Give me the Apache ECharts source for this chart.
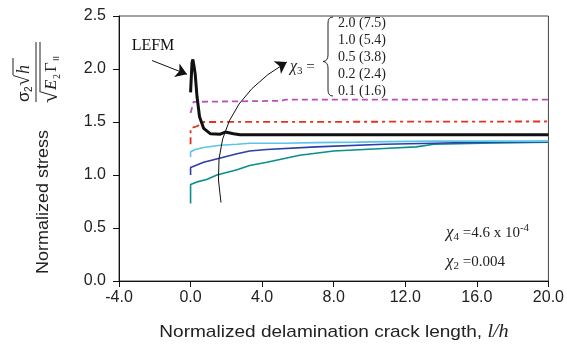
<!DOCTYPE html>
<html>
<head>
<meta charset="utf-8">
<script src="https://cdn.jsdelivr.net/npm/echarts@6/dist/echarts.min.js"></script>
<style>
  html, body { margin: 0; padding: 0; background: #fff; }
  #chart { width: 567px; height: 347px; }
</style>
</head>
<body>
<div id="chart"></div>
<script>
/* ---- data ---- */
const xMin = -4, xMax = 20, xStep = 4;
const yMin = 0, yMax = 2.5, yStep = 0.5;

// LEFM solution (thick black)
const lefm = [[0, 1.78], [0.08, 2.06], [0.13, 2.09], [0.2, 2.02], [0.26, 1.95], [0.36, 1.74],
  [0.5, 1.55], [0.73, 1.44], [1.1, 1.39], [1.66, 1.385], [1.94, 1.405], [2.4, 1.39], [2.77, 1.38], [20, 1.38]];
// chi3 = 2.0 (7.5)
const chi20 = [[0, 1.585], [0.17, 1.69], [0.25, 1.70], [5.1, 1.70], [5.3, 1.712], [20, 1.712]];
// chi3 = 1.0 (5.4)
const chi10 = [[0, 1.29], [0, 1.44], [0.36, 1.46], [0.73, 1.50], [20, 1.505]];
// chi3 = 0.5 (3.8)
const chi05 = [[0, 1.17], [0, 1.22], [0.26, 1.24], [0.73, 1.26], [1.66, 1.28], [2.6, 1.29], [3.3, 1.30],
  [5.2, 1.30], [7, 1.305], [9.3, 1.31], [11, 1.315], [13.6, 1.32], [20, 1.32]];
// chi3 = 0.2 (2.4)
const chi02 = [[0, 1.0], [0, 1.07], [0.73, 1.12], [1.56, 1.155], [2.6, 1.20], [3.3, 1.227], [4.26, 1.24],
  [7, 1.265], [10.8, 1.29], [13.6, 1.30], [16.3, 1.31], [20, 1.315]];
// chi3 = 0.1 (1.6)
const chi01 = [[0, 0.73], [0, 0.91], [0.36, 0.935], [0.9, 0.957], [1.47, 1.0], [2.6, 1.05], [3.3, 1.09],
  [4.26, 1.12], [6.1, 1.186], [8, 1.227], [10.8, 1.25], [12.6, 1.265], [13.6, 1.29], [16.3, 1.30], [20, 1.31]];

const chi3Labels = ['2.0 (7.5)', '1.0 (5.4)', '0.5 (3.8)', '0.2 (2.4)', '0.1 (1.6)'];

// annotation arrows (data coords)
const lefmArrow = [[-2.15, 2.08], [-0.2, 1.95]];
const chi3Arrow = [[1.7, 0.74], [5.38, 2.065]];

/* ---- chart ---- */
const SANS = '"Liberation Sans", Arial, sans-serif';
const SERIF = '"Liberation Serif", "Times New Roman", serif';

const chart = echarts.init(document.getElementById('chart'), null, { renderer: 'canvas' });

function curve(name, data, color, width, type) {
  return {
    name, type: 'line', data,
    showSymbol: false, symbol: 'none', animation: false,
    lineStyle: { color, width, type: type || 'solid' },
    z: 3
  };
}

function arrow(coords, curveness) {
  return {
    type: 'lines', coordinateSystem: 'cartesian2d', animation: false, z: 4,
    symbol: ['none', 'arrow'], symbolSize: [7, 11],
    lineStyle: { color: '#111', width: 1, opacity: 1, curveness },
    data: [{ coords }]
  };
}

const listText = chi3Labels.map((t, i) => ({
  type: 'text', x: 338, y: 23 + i * 17.2,
  style: { text: t, font: '14px ' + SERIF, fill: '#222', verticalAlign: 'middle' }
}));

// curly brace, drawn from small pieces
const braceStyle = { stroke: '#222', fill: null, lineWidth: 1 };
const brace = [
  { type: 'bezierCurve', shape: { x1: 333, y1: 17, x2: 328, y2: 23, cpx1: 328, cpy1: 17 } },
  { type: 'line', shape: { x1: 328, y1: 23, x2: 328, y2: 55 } },
  { type: 'bezierCurve', shape: { x1: 328, y1: 55, x2: 323, y2: 61.5, cpx1: 328, cpy1: 61 } },
  { type: 'bezierCurve', shape: { x1: 323, y1: 61.5, x2: 328, y2: 68, cpx1: 328, cpy1: 62 } },
  { type: 'line', shape: { x1: 328, y1: 68, x2: 328, y2: 90 } },
  { type: 'bezierCurve', shape: { x1: 328, y1: 90, x2: 333, y2: 96, cpx1: 328, cpy1: 96 } }
].map(e => Object.assign(e, { style: braceStyle, z: 5 }));

const option = {
  animation: false,
  grid: { left: 119, right: 18, top: 16, bottom: 66, show: true, borderColor: '#444', borderWidth: 1 },
  xAxis: {
    type: 'value', min: xMin, max: xMax, interval: xStep,
    axisLine: { onZero: false, lineStyle: { color: '#111', width: 1 } },
    axisTick: { length: 6, lineStyle: { color: '#111' } },
    axisLabel: { color: '#222', fontSize: 16, fontFamily: SANS, margin: 9, formatter: v => v.toFixed(1) },
    splitLine: { show: false }
  },
  yAxis: {
    type: 'value', min: yMin, max: yMax, interval: yStep,
    axisLine: { show: true, onZero: false, lineStyle: { color: '#111', width: 1 } },
    axisTick: { show: true, length: 6, lineStyle: { color: '#111' } },
    axisLabel: { color: '#222', fontSize: 16, fontFamily: SANS, margin: 13, formatter: v => v.toFixed(1) },
    splitLine: { show: false }
  },
  series: [
    curve('0.1', chi01, '#0a8f8a', 1.6),
    curve('0.2', chi02, '#2a3fa8', 1.6),
    curve('0.5', chi05, '#5cc3ea', 1.6),
    curve('1.0', chi10, '#e2321e', 1.8, [7, 4, 3, 4]),
    curve('2.0', chi20, '#b94fbb', 1.8, [6, 4]),
    curve('LEFM', lefm, '#111', 3),
    arrow(lefmArrow, 0),
    arrow(chi3Arrow, 0.35)
  ],
  graphic: [
    // LEFM label
    { type: 'text', x: 153, y: 46, style: { text: 'LEFM', font: '16px ' + SERIF, fill: '#111', align: 'center', verticalAlign: 'middle' } },
    // chi3 =
    {
      type: 'text', x: 290, y: 67,
      style: {
        text: '{c|χ}{s|3} =', fill: '#222', verticalAlign: 'middle',
        rich: {
          c: { font: 'italic 16px ' + SERIF, fill: '#222' },
          s: { font: '11px ' + SERIF, fill: '#222', padding: [8, 0, 0, 0] }
        },
        font: '15px ' + SERIF
      }
    },
    ...brace,
    ...listText,
    // chi4, chi2 notes
    {
      type: 'text', x: 446, y: 233,
      style: {
        text: '{c|χ}{s|4} =4.6 x 10{p|-4}', verticalAlign: 'middle', font: '15px ' + SERIF, fill: '#222',
        rich: {
          c: { font: 'italic 17px ' + SERIF, fill: '#222' },
          s: { font: '11px ' + SERIF, fill: '#222', padding: [8, 0, 0, 0] },
          p: { font: '11px ' + SERIF, fill: '#222', padding: [0, 0, 9, 0] }
        }
      }
    },
    {
      type: 'text', x: 446, y: 262,
      style: {
        text: '{c|χ}{s|2} =0.004', verticalAlign: 'middle', font: '15px ' + SERIF, fill: '#222',
        rich: {
          c: { font: 'italic 17px ' + SERIF, fill: '#222' },
          s: { font: '11px ' + SERIF, fill: '#222', padding: [8, 0, 0, 0] }
        }
      }
    },
    // x axis title (slightly widened like the source lettering)
    {
      type: 'group', x: 334, y: 332, scaleX: 1.12,
      children: [{
        type: 'text', x: 0, y: 0,
        style: {
          text: 'Normalized delamination crack length, {i|l/h}', align: 'center', verticalAlign: 'middle',
          font: '17px ' + SANS, fill: '#222',
          rich: { i: { font: 'italic 18px ' + SERIF, fill: '#222' } }
        }
      }]
    },
    // y axis title
    {
      type: 'group', x: 43, y: 202, rotation: Math.PI / 2, scaleX: 1.06,
      children: [{
        type: 'text', x: 0, y: 0,
        style: { text: 'Normalized stress', align: 'center', verticalAlign: 'middle', font: '17px ' + SANS, fill: '#222' }
      }]
    },
    // stress fraction, rotated
    {
      type: 'group', x: 36, y: 72, rotation: Math.PI / 2,
      children: [
        { type: 'line', shape: { x1: -30, y1: 0, x2: 30, y2: 0 }, style: { stroke: '#222', lineWidth: 1 } },
        // numerator: sigma_2 sqrt(h)
        { type: 'text', x: -30, y: -12, style: { text: 'σ', font: '17px ' + SANS, fill: '#222', verticalAlign: 'middle' } },
        { type: 'text', x: -20, y: -7, style: { text: '2', font: '10px ' + SANS, fill: '#222', verticalAlign: 'middle' } },
        { type: 'text', x: -14, y: -12, style: { text: '√', font: '20px ' + SERIF, fill: '#222', verticalAlign: 'middle' } },
        { type: 'line', shape: { x1: -3, y1: -23, x2: 14, y2: -23 }, style: { stroke: '#222', lineWidth: 1 } },
        { type: 'text', x: -2, y: -12, style: { text: 'h', font: 'italic 18px ' + SERIF, fill: '#222', verticalAlign: 'middle' } },
        // denominator: sqrt(E_2 Gamma_II)
        { type: 'text', x: -31, y: 15, style: { text: '√', font: '22px ' + SERIF, fill: '#222', verticalAlign: 'middle' } },
        { type: 'line', shape: { x1: -19, y1: 4, x2: 30, y2: 4 }, style: { stroke: '#222', lineWidth: 1 } },
        { type: 'text', x: -18, y: 16, style: { text: 'E', font: 'italic 17px ' + SERIF, fill: '#222', verticalAlign: 'middle' } },
        { type: 'text', x: -7, y: 21, style: { text: '2', font: '10px ' + SERIF, fill: '#222', verticalAlign: 'middle' } },
        { type: 'text', x: 0, y: 16, style: { text: 'Γ', font: '17px ' + SERIF, fill: '#222', verticalAlign: 'middle' } },
        { type: 'text', x: 11, y: 21, style: { text: 'II', font: '9px ' + SANS, fill: '#222', verticalAlign: 'middle' } }
      ]
    }
  ]
};

chart.setOption(option);
</script>
</body>
</html>
